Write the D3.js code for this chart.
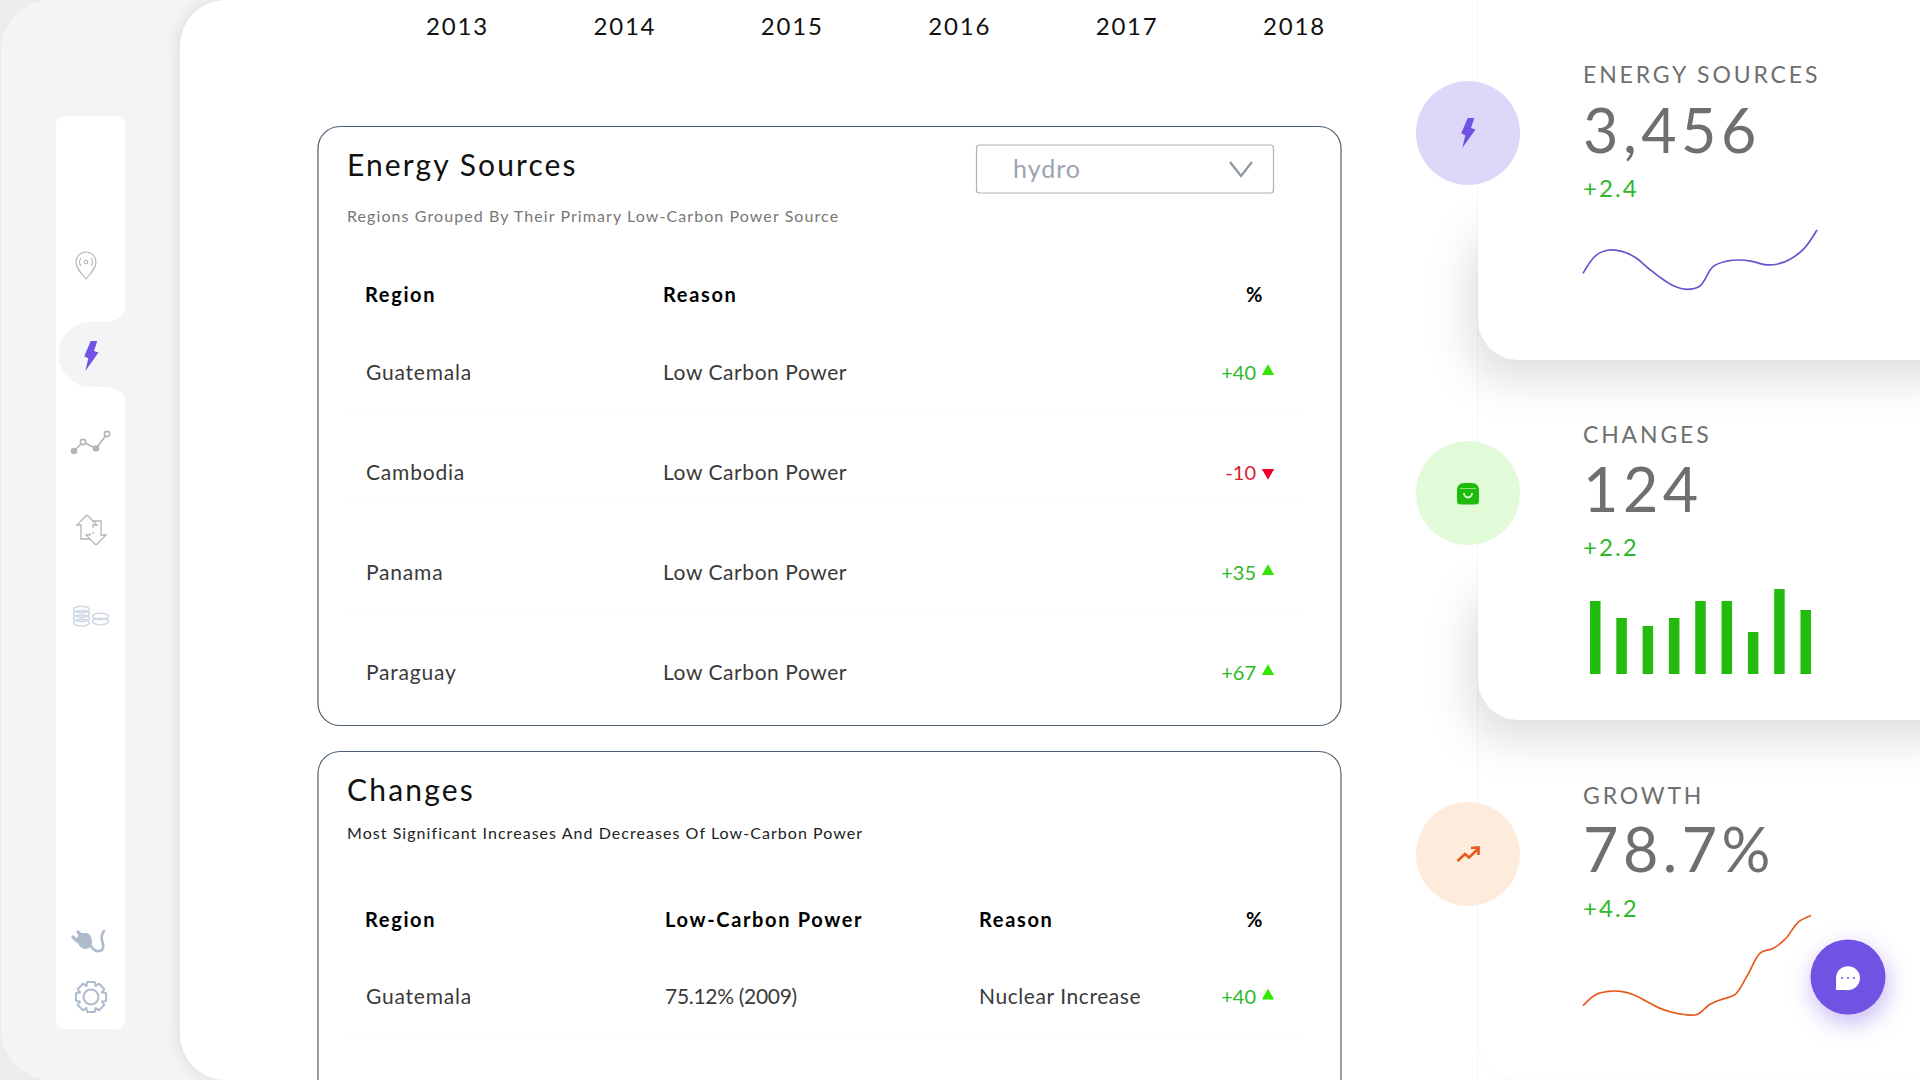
<!DOCTYPE html>
<html>
<head>
<meta charset="utf-8">
<title>Energy dashboard</title>
<script src="https://cdn.jsdelivr.net/npm/d3@7"></script>
<style>
    html, body { margin: 0; padding: 0; background: #ececed; overflow: hidden; }
    svg { display: block; font-family: Lato, sans-serif; }
    .panel { fill: #fff; stroke: #4d5f70; stroke-width: 1.2; }
    .head { font-weight: 700; font-size: 20px; letter-spacing: 1.65px; fill: #000; }
    .cell { font-size: 21px; letter-spacing: .8px; fill: #3a3a3a; }
    .reason { letter-spacing: .57px; }
    .power { letter-spacing: -.3px; }
    .pct { font-size: 20px; text-anchor: end; }
    .kpi-title { font-size: 23px; letter-spacing: 2.85px; fill: #6f6f6f; }
    .kpi-value { font-size: 61px; letter-spacing: 4.5px; fill: #6f6f6f; }
    .kpi-delta { font-size: 24px; letter-spacing: 2.1px; fill: #2fb82a; }
    .year text { font-size: 24px; letter-spacing: 1.8px; fill: #111; font-family: Lato, sans-serif; }
</style>
</head>
<body>
<div id="chart"></div>
<script>
var years = ['2013', '2014', '2015', '2016', '2017', '2018'];

var sourceRegions = ['Guatemala', 'Cambodia', 'Panama', 'Paraguay'];
var sourceReasons = ['Low Carbon Power', 'Low Carbon Power', 'Low Carbon Power', 'Low Carbon Power'];
var sourceChanges = [40, -10, 35, 67];

var changeRegions = ['Guatemala'];
var changePower = ['75.12% (2009)'];
var changeReasons = ['Nuclear Increase'];
var changeValues = [40];

var kpiTitles = ['ENERGY SOURCES', 'CHANGES', 'GROWTH'];
var kpiValues = ['3,456', '124', '78.7%'];
var kpiDeltas = ['+2.4', '+2.2', '+4.2'];

var energyLine = [30, 57, 65, 63, 54, 38, 23, 11, 6, 11, 40, 48, 50, 48, 43, 44, 52, 67, 95];
var changeBars = [73, 56, 48, 56, 73, 73, 42, 85, 64];
var growthLine = [16, 26, 29, 29, 26, 20, 14, 10, 8, 8, 17, 22, 26, 44, 64, 68, 77, 92, 98];

var svg = d3.select('#chart').append('svg').attr('width', 1920).attr('height', 1080);

function drawFrame() {
    svg.append('rect').attr('x', 1).attr('y', 0).attr('width', 300).attr('height', 1080)
        .attr('rx', 50).attr('fill', '#f3f4f6');

    svg.append('rect').attr('x', 180).attr('y', 0).attr('width', 1900).attr('height', 1080)
        .attr('rx', 46).attr('fill', '#fff')
        .style('filter', 'drop-shadow(-3px 0 7px rgba(0,0,0,.09))');

    svg.append('rect').attr('x', 56).attr('y', 116).attr('width', 69).attr('height', 913)
        .attr('rx', 9).attr('fill', '#fff');
    svg.append('path')
        .attr('d', 'M126,308 C124,317 115,322 104,322 L91,322 A32.5,32.5 0 0 0 91,387 L104,387 C115,387 124,392 126,401 Z')
        .attr('fill', '#f3f4f6');
}

function bolt(g, color) {
    g.append('path').attr('d', 'M-.3,-15 L6.3,-15 L3,-5 L7.5,-3.5 L-5.7,15 L-2.7,2.6 L-6.7,.3 Z').attr('fill', color);
}

function drawNav() {
    var grey = '#b5b5b5';
    var blue = '#cfd8e6';
    var slate = '#aebbcd';

    var pin = svg.append('g').attr('transform', 'translate(86,265)').attr('fill', 'none').attr('stroke', grey).attr('stroke-width', 1.1);
    pin.append('path').attr('d', 'M0,14 C-5,8 -10,3 -10,-3 A10,10 0 0 1 10,-3 C10,3 5,8 0,14 Z');
    pin.append('circle').attr('cy', -3).attr('r', 1.8);
    pin.append('path').attr('d', 'M-5,-7 A6.5,6.5 0 0 0 -5,1 M5,-7 A6.5,6.5 0 0 1 5,1');

    bolt(svg.append('g').attr('transform', 'translate(91,356)'), '#7053e3');

    var trend = svg.append('g').attr('fill', 'none').attr('stroke', grey).attr('stroke-width', 1.6);
    trend.append('path').attr('d', 'M74,451 L83,442 L96,448.5 L107,434');
    svg.append('circle').attr('cx', 74).attr('cy', 451).attr('r', 3.3).attr('fill', grey);
    svg.append('circle').attr('cx', 96).attr('cy', 448.5).attr('r', 3.3).attr('fill', grey);
    trend.append('circle').attr('cx', 83).attr('cy', 442).attr('r', 2.6).attr('fill', '#fff');
    trend.append('circle').attr('cx', 107).attr('cy', 434).attr('r', 2.6).attr('fill', '#fff');

    var swap = svg.append('g').attr('transform', 'translate(91,530)').attr('fill', 'none').attr('stroke', grey).attr('stroke-width', 1.3);
    swap.append('path').attr('d', 'M-4,-15 L-14,-5 L-10,-5 L-10,9 L-1,9 M-4,-15 L6,-5 L2,-5 L2,-2 M2,2 L2,4');
    swap.append('path').attr('d', 'M5,15 L-5,5 L-1,5 L-1,3 M5,15 L15,5 L10,5 L10,-9 L1,-9');

    var coins = svg.append('g').attr('fill', 'none').attr('stroke', blue).attr('stroke-width', 1.6);
    [0, 1, 2, 3].forEach(function(i) {
        coins.append('ellipse').attr('cx', 81.5).attr('cy', 609.5 + i * 4.4).attr('rx', 8).attr('ry', 3.3);
    });
    [0, 1].forEach(function(i) {
        coins.append('ellipse').attr('cx', 100.5).attr('cy', 616.5 + i * 5).attr('rx', 8).attr('ry', 3.3);
    });

    var plug = svg.append('g').attr('transform', 'translate(88,940)');
    plug.append('path').attr('d', 'M-8,-7 L-1,-7 C4,-5 5,2 3,6 C0,10 -6,10 -9,5 L-12,-1 Z').attr('fill', slate);
    plug.append('path').attr('d', 'M-10,-8 L-6,-4 M-15,-3 L-11,1').attr('stroke', slate).attr('stroke-width', 3.2).attr('stroke-linecap', 'round');
    plug.append('path').attr('d', 'M3,6 C8,14 17,12 15,4 C14,0 12,-4 16,-9')
        .attr('fill', 'none').attr('stroke', slate).attr('stroke-width', 2.6).attr('stroke-linecap', 'round');

    var gear = svg.append('g').attr('transform', 'translate(91,997)').attr('fill', 'none').attr('stroke', slate).attr('stroke-width', 2);
    gear.append('circle').attr('r', 7.5);
    var teeth = d3.range(8).map(function(i) { return i * Math.PI / 4; });
    var gearPath = '';
    teeth.forEach(function(a, i) {
        var w = 0.24, r1 = 12, r2 = 15.5;
        var pts = [[r1, a - 0.42], [r2, a - w], [r2, a + w], [r1, a + 0.42]];
        pts.forEach(function(p, j) {
            gearPath += ((i === 0 && j === 0) ? 'M' : 'L') + (p[0] * Math.cos(p[1])).toFixed(2) + ',' + (p[0] * Math.sin(p[1])).toFixed(2);
        });
    });
    gear.append('path').attr('d', gearPath + 'Z').attr('stroke-linejoin', 'round');
}

function drawYears() {
    var x = d3.scalePoint().domain(years).range([457, 1294]);
    var axis = svg.append('g').attr('class', 'year').attr('transform', 'translate(0,35)')
        .call(d3.axisTop(x).tickSize(0).tickPadding(0));
    axis.select('.domain').remove();
}

function pctCell(g, value, y) {
    var up = value >= 0;
    g.append('text').attr('class', 'pct')
        .attr('x', 1256).attr('y', y)
        .attr('fill', up ? '#2fb82a' : '#d9232f')
        .text((up ? '+' : '') + value);
    g.append('path')
        .attr('d', d3.symbol().type(d3.symbolTriangle).size(66))
        .attr('transform', 'translate(1268,' + (up ? y - 8 : y - 7) + ') rotate(' + (up ? 0 : 180) + ')')
        .attr('fill', up ? '#33e600' : '#f0002d');
}

function rowRule(g, y) {
    g.append('line').attr('x1', 342).attr('x2', 1308).attr('y1', y).attr('y2', y)
        .attr('stroke', '#fafafa').attr('stroke-dasharray', '4 3');
}

function drawSources() {
    var g = svg.append('g');
    var ruleGap = [31, 22, 31];

    g.append('rect').attr('class', 'panel').attr('x', 318).attr('y', 126.5).attr('width', 1023).attr('height', 599).attr('rx', 22);

    g.append('text').attr('x', 347).attr('y', 176).attr('font-size', 30).attr('letter-spacing', 2.1).attr('fill', '#111').text('Energy Sources');
    g.append('text').attr('x', 347).attr('y', 222).attr('font-size', 16).attr('letter-spacing', 1.08).attr('fill', '#777')
        .text('Regions Grouped By Their Primary Low-Carbon Power Source');

    g.append('rect').attr('x', 976.5).attr('y', 145).attr('width', 297).attr('height', 48).attr('rx', 3)
        .attr('fill', '#fff').attr('stroke', '#aab3bd').attr('stroke-width', 1.2);
    g.append('text').attr('x', 1013).attr('y', 178).attr('font-size', 25).attr('letter-spacing', 1).attr('fill', '#9aa5b1').text('hydro');
    g.append('path').attr('d', 'M1230,162 L1241,176 L1252,162').attr('fill', 'none').attr('stroke', '#8b97a5').attr('stroke-width', 2.2);

    g.append('text').attr('class', 'head').attr('x', 365).attr('y', 302).text('Region');
    g.append('text').attr('class', 'head').attr('x', 663).attr('y', 302).text('Reason');
    g.append('text').attr('class', 'head').attr('x', 1264).attr('y', 302).attr('text-anchor', 'end').text('%');

    var rowY = d3.scalePoint().domain(sourceRegions).range([379.5, 679.5]);

    sourceRegions.forEach(function(region, i) {
        var y = rowY(region);
        g.append('text').attr('class', 'cell').attr('x', 366).attr('y', y).text(region);
        g.append('text').attr('class', 'cell reason').attr('x', 663).attr('y', y).text(sourceReasons[i]);
        pctCell(g, sourceChanges[i], y);
        if (i < sourceRegions.length - 1) {
            rowRule(g, y + ruleGap[i]);
        }
    });
}

function drawChanges() {
    var g = svg.append('g');
    g.append('rect').attr('class', 'panel').attr('x', 318).attr('y', 751.5).attr('width', 1023).attr('height', 500).attr('rx', 22);

    g.append('text').attr('x', 347).attr('y', 801).attr('font-size', 30).attr('letter-spacing', 2.2).attr('fill', '#111').text('Changes');
    g.append('text').attr('x', 347).attr('y', 839).attr('font-size', 16).attr('letter-spacing', 1.05).attr('fill', '#222')
        .text('Most Significant Increases And Decreases Of Low-Carbon Power');

    g.append('text').attr('class', 'head').attr('x', 365).attr('y', 927).text('Region');
    g.append('text').attr('class', 'head').attr('x', 665).attr('y', 927).text('Low-Carbon Power');
    g.append('text').attr('class', 'head').attr('x', 979).attr('y', 927).text('Reason');
    g.append('text').attr('class', 'head').attr('x', 1264).attr('y', 927).attr('text-anchor', 'end').text('%');

    changeRegions.forEach(function(region, i) {
        var y = 1004;
        g.append('text').attr('class', 'cell').attr('x', 366).attr('y', y).text(region);
        g.append('text').attr('class', 'cell power').attr('x', 665).attr('y', y).text(changePower[i]);
        g.append('text').attr('class', 'cell reason').attr('x', 979).attr('y', y).text(changeReasons[i]);
        pctCell(g, changeValues[i], y);
        rowRule(g, y + 34);
    });
}

function drawCards() {
    var tops = [720, 360, 0];

    svg.append('line').attr('x1', 1477.5).attr('x2', 1477.5).attr('y1', 0).attr('y2', 1080).attr('stroke', '#f7f7f7');

    // drawn bottom up so each card's shadow lands on the card below it
    tops.forEach(function(top, i) {
        if (i > 0) {
            // only the lower part of the card casts a shadow, like a negative spread
            svg.append('rect').attr('x', 1470).attr('y', top + 230).attr('width', 500).attr('height', 150)
                .attr('rx', 40).attr('fill', 'rgba(0,0,0,.13)')
                .style('filter', 'blur(22px)');
        }
        svg.append('path')
            .attr('d', 'M1478,' + (top - 60) + ' H1960 V' + (top + 320) + ' A40,40 0 0 1 1920,' + (top + 360) +
                ' H1518 A40,40 0 0 1 1478,' + (top + 320) + ' Z')
            .attr('fill', '#fff')
            .attr('stroke', i === 0 ? '#f8f8f8' : 'none');
    });

    var baselines = [[83, 153, 197], [443, 512, 556], [804, 872, 917]];
    kpiTitles.forEach(function(title, i) {
        svg.append('text').attr('class', 'kpi-title').attr('x', 1583).attr('y', baselines[i][0]).text(title);
        svg.append('text').attr('class', 'kpi-value').attr('x', 1583).attr('y', baselines[i][1]).text(kpiValues[i]);
        svg.append('text').attr('class', 'kpi-delta').attr('x', 1583).attr('y', baselines[i][2]).text(kpiDeltas[i]);
    });

    svg.append('circle').attr('cx', 1468).attr('cy', 133).attr('r', 52).attr('fill', '#ddd8fa');
    svg.append('circle').attr('cx', 1468).attr('cy', 493).attr('r', 52).attr('fill', '#e1fad8');
    svg.append('circle').attr('cx', 1468).attr('cy', 854).attr('r', 52).attr('fill', '#fdecdc');

    bolt(svg.append('g').attr('transform', 'translate(1468,133)'), '#7053e3');

    var bag = svg.append('g').attr('transform', 'translate(1468,494)');
    bag.append('path').attr('d', 'M-11,-3 Q-11,-11 -4,-11 H4 Q11,-11 11,-3 V7 Q11,10.5 7,10.5 H-7 Q-11,10.5 -11,7 Z').attr('fill', '#1fbb0c');
    bag.append('path').attr('d', 'M-8,-5.5 H8').attr('stroke', '#8fe083').attr('stroke-width', 1);
    bag.append('path').attr('d', 'M-4,-1 A4,4.5 0 0 0 4,-1').attr('fill', 'none').attr('stroke', '#dff7d8').attr('stroke-width', 1.8);

    var arrow = svg.append('g').attr('transform', 'translate(1468,854)').attr('fill', 'none').attr('stroke', '#e8591c').attr('stroke-width', 2.6);
    arrow.append('path').attr('d', 'M-10.5,7 L-3,0 L1,3.5 L10,-5');
    arrow.append('path').attr('d', 'M3,-6 L10.5,-6.5 L10.5,1');
}

function sparkline(values, xRange, yRange, color) {
    var x = d3.scaleLinear().domain([0, values.length - 1]).range(xRange);
    var y = d3.scaleLinear().domain([0, 100]).range(yRange);
    var line = d3.line()
        .x(function(d, i) { return x(i); })
        .y(function(d) { return y(d); })
        .curve(d3.curveCatmullRom.alpha(0.5));
    svg.append('path').attr('d', line(values)).attr('fill', 'none').attr('stroke', color).attr('stroke-width', 1.7);
}

function drawMiniCharts() {
    sparkline(energyLine, [1583, 1817], [293.3, 226.7], '#6d52cf');
    sparkline(growthLine, [1583, 1811], [1023.3, 913.3], '#e8591c');

    var x = d3.scaleBand().domain(d3.range(changeBars.length)).range([1590, 1811]).paddingInner(0.6);
    var y = d3.scaleLinear().domain([0, 100]).range([674, 574]);
    svg.append('g').selectAll('rect').data(changeBars).join('rect')
        .attr('x', function(d, i) { return x(i); })
        .attr('y', function(d) { return y(d); })
        .attr('width', x.bandwidth())
        .attr('height', function(d) { return y(0) - y(d); })
        .attr('fill', '#23bb0e');
}

function drawChatButton() {
    var g = svg.append('g').attr('transform', 'translate(1848,977)');
    g.append('circle').attr('r', 37.5).attr('fill', '#7053e3')
        .style('filter', 'drop-shadow(2px 8px 12px rgba(112,83,227,.42))');
    g.append('path').attr('d', 'M-12,1 A12,12 0 1 1 -2,13 L-12,13 Z').attr('fill', '#fff');
    [-6, 0, 6].forEach(function(dx) {
        g.append('circle').attr('cx', dx).attr('cy', 1).attr('r', 1.1).attr('fill', '#7053e3');
    });
}

drawFrame();
drawNav();
drawYears();
drawSources();
drawChanges();
drawCards();
drawMiniCharts();
drawChatButton();
</script>
</body>
</html>
